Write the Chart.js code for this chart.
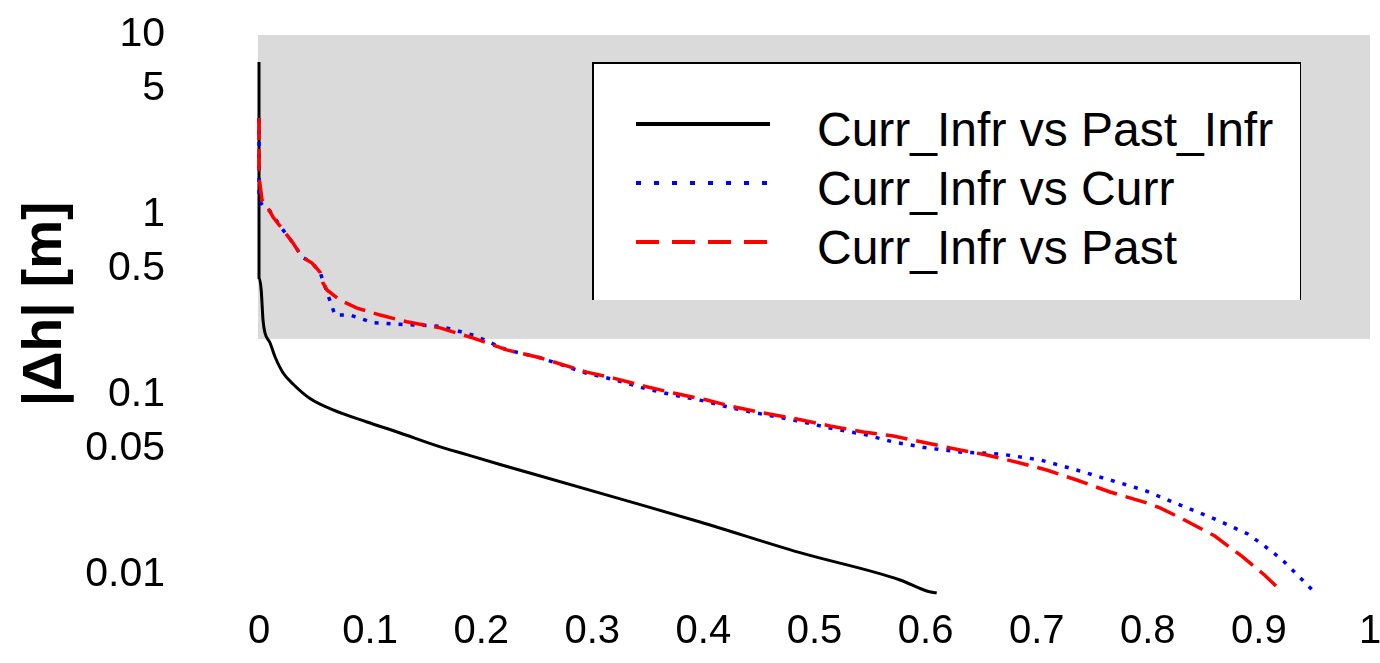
<!DOCTYPE html>
<html>
<head>
<meta charset="utf-8">
<script src="https://cdn.jsdelivr.net/npm/chart.js@4.4.1/dist/chart.umd.min.js"></script>
<style>
  body { margin: 0; background: #fff; }
  #wrap { position: relative; width: 1380px; height: 663px; }
  #legend {
    position: absolute; left: 592px; top: 62px; width: 706px; height: 236px;
    background: #fff; border-left: 2px solid #000; border-top: 2px solid #000; border-right: 1px solid #000;
    font-family: "Liberation Sans", Arial, sans-serif; font-size: 48px; color: #000;
  }
  .row { position: absolute; left: 0; height: 48px; line-height: 48px; white-space: nowrap; }
  .row svg { position: absolute; left: 42px; top: 0; }
  .row span { position: absolute; left: 223px; top: 0; }
</style>
</head>
<body>
<div id="wrap">
  <canvas id="chart"></canvas>
  <div id="legend"></div>
</div>
<script>
// x tick labels and y tick labels (log axis)
var xTicks = [0, 0.1, 0.2, 0.3, 0.4, 0.5, 0.6, 0.7, 0.8, 0.9, 1];
var yTicks = [10, 5, 1, 0.5, 0.1, 0.05, 0.01];
var yTickLabels = ["10", "5", "1", "0.5", "0.1", "0.05", "0.01"];
var yTitle = "|\u0394h| [m]";

// shaded region
var shadeX = [0, 1];
var shadeY = [0.205, 10];

var seriesNames = ["Curr_Infr vs Past_Infr", "Curr_Infr vs Curr", "Curr_Infr vs Past"];

// Curr_Infr vs Past_Infr
var blackX = [0, 0, 0.002, 0.0036, 0.0054, 0.0099, 0.0144, 0.0216, 0.0306, 0.0459, 0.0666, 0.0972, 0.127, 0.157, 0.187, 0.217, 0.247, 0.322, 0.397, 0.487, 0.577, 0.601, 0.610];
var blackY = [7.08, 0.45, 0.383, 0.261, 0.221, 0.195, 0.163, 0.133, 0.115, 0.0955, 0.0826, 0.0708, 0.0615, 0.0530, 0.0466, 0.0411, 0.0364, 0.0268, 0.0197, 0.0133, 0.00938, 0.00815, 0.00794];

// Curr_Infr vs Curr
var blueX = [0, 0, 0.0036, 0.0099, 0.0216, 0.0306, 0.0387, 0.0477, 0.0549, 0.0612, 0.0684, 0.0819, 0.1026, 0.127, 0.163, 0.193, 0.223, 0.253, 0.295, 0.319, 0.349, 0.373, 0.403, 0.424, 0.454, 0.484, 0.514, 0.544, 0.571, 0.601, 0.631, 0.667, 0.703, 0.736, 0.766, 0.796, 0.831, 0.860, 0.890, 0.905, 0.920, 0.934, 0.948];
var blueY = [3.46, 1.21, 1.12, 1.05, 0.826, 0.699, 0.585, 0.541, 0.482, 0.372, 0.278, 0.278, 0.252, 0.247, 0.241, 0.215, 0.178, 0.161, 0.132, 0.122, 0.108, 0.1, 0.092, 0.085, 0.078, 0.072, 0.0655, 0.0605, 0.0548, 0.0508, 0.0482, 0.047, 0.0436, 0.0383, 0.0337, 0.0297, 0.0242, 0.0205, 0.0169, 0.0145, 0.0123, 0.0101, 0.00826];

// Curr_Infr vs Past
var redX = [0, 0, 0.0027, 0.0054, 0.0126, 0.0216, 0.0306, 0.0387, 0.0477, 0.0549, 0.0576, 0.0612, 0.0729, 0.0882, 0.109, 0.133, 0.163, 0.193, 0.223, 0.253, 0.295, 0.319, 0.349, 0.373, 0.403, 0.424, 0.454, 0.484, 0.514, 0.544, 0.571, 0.601, 0.631, 0.655, 0.685, 0.709, 0.736, 0.766, 0.796, 0.811, 0.831, 0.860, 0.884, 0.905, 0.920];
var redY = [3.46, 1.63, 1.21, 1.17, 0.975, 0.826, 0.699, 0.585, 0.541, 0.482, 0.419, 0.383, 0.337, 0.304, 0.278, 0.255, 0.236, 0.207, 0.178, 0.161, 0.134, 0.124, 0.111, 0.1026, 0.0938, 0.0869, 0.0794, 0.0736, 0.0673, 0.0623, 0.0592, 0.0541, 0.0495, 0.0464, 0.0419, 0.0383, 0.0337, 0.0289, 0.0255, 0.0236, 0.0205, 0.0165, 0.0128, 0.0100, 0.00815];

function pts(xs, ys) {
  return xs.map(function (x, i) { return { x: x, y: ys[i] }; });
}

var styles = [
  { color: "#000000", dash: [] , width: 3 },
  { color: "#0000ff", dash: [4, 8], width: 3.5 },
  { color: "#ff0000", dash: [22, 9], width: 3.5 }
];

var font = "'Liberation Sans', Arial, sans-serif";

var shadePlugin = {
  id: "shade",
  beforeDatasetsDraw: function (chart) {
    var ctx = chart.ctx, xs = chart.scales.x, ys = chart.scales.y;
    var x0 = xs.getPixelForValue(shadeX[0]) - 1, x1 = xs.getPixelForValue(shadeX[1]);
    var y0 = ys.getPixelForValue(shadeY[1]), y1 = ys.getPixelForValue(shadeY[0]);
    ctx.save();
    ctx.fillStyle = "#dadada";
    ctx.fillRect(x0, y0, x1 - x0, y1 - y0);
    ctx.restore();
  }
};

// y axis title, drawn a bit above the axis centre like the original
var titlePlugin = {
  id: "ytitle",
  afterDraw: function (chart) {
    var ctx = chart.ctx;
    ctx.save();
    ctx.translate(46, 304);
    ctx.rotate(-Math.PI / 2);
    ctx.font = "bold 55px " + font;
    ctx.fillStyle = "#000";
    ctx.textAlign = "center";
    ctx.textBaseline = "middle";
    ctx.fillText(yTitle, 0, 0);
    ctx.restore();
  }
};

var ctx = document.getElementById("chart");
var myChart = new Chart(ctx, {
  type: "line",
  data: {
    datasets: [
      { label: seriesNames[0], data: pts(blackX, blackY), order: 2, cubicInterpolationMode: "monotone" },
      { label: seriesNames[1], data: pts(blueX, blueY), order: 1 },
      { label: seriesNames[2], data: pts(redX, redY), order: 0 }
    ].map(function (d, i) {
      d.borderColor = styles[i].color;
      d.borderDash = styles[i].dash;
      d.borderWidth = styles[i].width;
      d.pointRadius = 0;
      d.fill = false;
      d.clip = 8;
      return d;
    }),
  },
  options: {
    responsive: true,
    maintainAspectRatio: false,
    animation: false,
    layout: { padding: { top: 35, right: 10, left: 0, bottom: 0 } },
    plugins: {
      legend: { display: false },
      tooltip: { enabled: false },
    },
    scales: {
      x: {
        type: "linear",
        min: 0,
        max: 1,
        grid: { display: false, drawTicks: false },
        border: { display: false },
        afterBuildTicks: function (scale) {
          scale.ticks = xTicks.map(function (v) { return { value: v }; });
        },
        afterFit: function (scale) {
          scale.height = 63;
          scale.paddingLeft = 0;
          scale.paddingRight = 0;
        },
        ticks: {
          autoSkip: false,
          maxRotation: 0,
          padding: 8,
          color: "#000",
          font: { family: font, size: 40 },
          callback: function (value) { return String(value); },
        },
      },
      y: {
        type: "logarithmic",
        min: 0.00726,
        max: 10,
        grid: { display: false, drawTicks: false },
        border: { display: false },
        afterBuildTicks: function (scale) {
          scale.ticks = yTicks.map(function (v) { return { value: v }; });
        },
        afterFit: function (scale) {
          scale.width = 259;
          scale.paddingTop = 0;
          scale.paddingBottom = 0;
        },
        ticks: {
          autoSkip: false,
          padding: 94,
          color: "#000",
          font: { family: font, size: 41 },
          callback: function (value) {
            var i = yTicks.indexOf(value);
            return i >= 0 ? yTickLabels[i] : "";
          },
        },
        title: { display: false, text: yTitle },
      },
    },
  },
  plugins: [shadePlugin, titlePlugin],
});

// legend box
var legend = document.getElementById("legend");
var rowTops = [42, 101, 160];
var legendDash = ["none", "5 13", "23 13"];
seriesNames.forEach(function (name, i) {
  var row = document.createElement("div");
  row.className = "row";
  row.style.top = rowTops[i] + "px";
  row.innerHTML =
    '<svg width="136" height="48"><line x1="0" y1="18" x2="134" y2="18" stroke="' + styles[i].color +
    '" stroke-width="4" stroke-dasharray="' + legendDash[i] + '"/></svg>' +
    "<span>" + name + "</span>";
  legend.appendChild(row);
});
</script>
</body>
</html>
